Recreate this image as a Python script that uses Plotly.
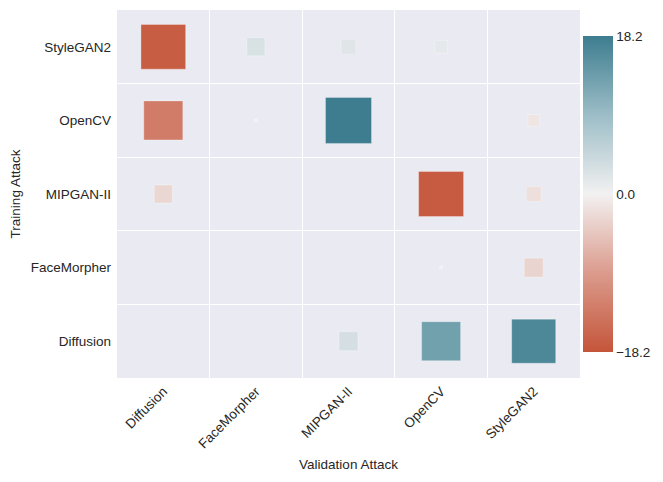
import numpy as np
import plotly.graph_objects as go

# categories
validation = ["Diffusion", "FaceMorpher", "MIPGAN-II", "OpenCV", "StyleGAN2"]
training = ["Diffusion", "FaceMorpher", "MIPGAN-II", "OpenCV", "StyleGAN2"]  # bottom -> top

# values per training attack (row), one per validation attack (column)
row_diffusion = [0.0, 0.0, 3.1, 13.1, 16.7]
row_facemorpher = [0.0, 0.0, 0.0, -0.08, -3.1]
row_mipgan = [-2.8, 0.0, 0.0, -17.4, -1.9]
row_opencv = [-13.1, -0.08, 18.2, 0.0, -1.2]
row_stylegan = [-17.2, 2.8, 1.9, 1.4, 0.0]

rows = [row_diffusion, row_facemorpher, row_mipgan, row_opencv, row_stylegan]
vmax = 18.2
max_side = 46

xs, ys, vals = [], [], []
for j, row in enumerate(rows):
    for i, v in enumerate(row):
        if v != 0:
            xs.append(i)
            ys.append(j)
            vals.append(v)
vals = np.array(vals)
sizes = max_side * np.sqrt(np.abs(vals) / vmax)

cscale = [
    [0.0, "#c4553a"],
    [0.25, "#db9b8c"],
    [0.5, "#f2f1f1"],
    [0.75, "#9cbdc7"],
    [1.0, "#3d7d8f"],
]

fs = 13.5

fig = go.Figure(go.Scatter(
    x=xs, y=ys, mode="markers",
    marker=dict(
        symbol="square", size=sizes, color=vals, opacity=1,
        colorscale=cscale, cmin=-vmax, cmax=vmax,
        line=dict(width=0.6, color="rgba(255,255,255,0.5)"),
        colorbar=dict(
            x=1.0065, xanchor="left", xpad=0, y=0.5, yanchor="middle",
            len=336, lenmode="pixels", thickness=30, outlinewidth=0,
            tickvals=[-vmax, 0, vmax], ticktext=["\u221218.2", "0.0", "18.2"],
            ticks="", tickfont=dict(size=fs, color="#262626"),
        ),
    ),
    hoverinfo="skip",
))

axis_common = dict(
    showgrid=False, zeroline=False, showline=False, ticks="", automargin=False,
    tickfont=dict(size=fs, color="#262626"), ticklabelstandoff=5,
    minor=dict(tick0=0.5, dtick=1, showgrid=True, gridcolor="white", gridwidth=1.2, ticks=""),
)

fig.update_layout(
    width=663, height=482,
    margin=dict(l=117, r=83, t=10, b=104, autoexpand=False),
    paper_bgcolor="white", plot_bgcolor="#eaeaf2",
    font=dict(family="Liberation Sans, Arial, sans-serif", size=fs, color="#262626"),
    showlegend=False,
    xaxis=dict(
        axis_common, range=[-0.5, 4.5],
        tickvals=list(range(len(validation))), ticktext=validation,
        tickangle=-45, ticklabelstandoff=2,
        title=dict(text="Validation Attack", font=dict(size=fs), standoff=9),
    ),
    yaxis=dict(
        axis_common, range=[-0.5, 4.5],
        tickvals=list(range(len(training))), ticktext=training,
        title=dict(text="Training Attack", font=dict(size=fs), standoff=6),
    ),
)

# page has an 8px default body margin; drop it so the figure sits at the corner
fig.write_html("out.html", config={"displayModeBar": False},
               post_script="document.body.style.margin='0';")
